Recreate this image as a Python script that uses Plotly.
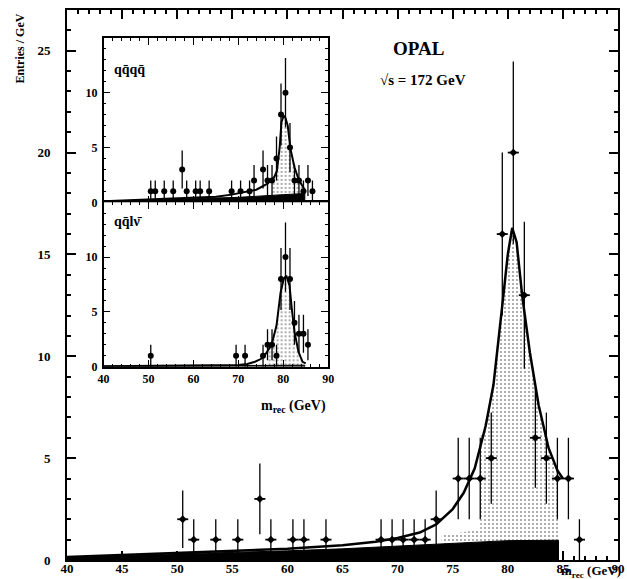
import numpy as np
import plotly.graph_objects as go

# ---------------- data ----------------
# main plot (all channels)
x_main = [50.5, 51.5, 53.5, 55.5, 57.5, 58.5, 60.5, 61.5, 63.5, 68.5, 69.5, 70.5, 71.5, 72.5,
          73.5, 75.5, 76.5, 77.5, 78.5, 79.5, 80.5, 81.5, 82.5, 83.5, 84.5, 85.5, 86.5]
n_main = [2, 1, 1, 1, 3, 1, 1, 1, 1, 1, 1, 1, 1, 1, 2, 4, 4, 4, 5, 16, 20, 13, 6, 5, 4, 4, 1]

fit_x = [40, 45, 50, 55, 60, 65, 68, 70, 72, 73.5, 75, 76, 77, 78, 78.7, 79.5, 80, 80.4,
         80.8, 81.3, 82, 82.8, 83.7, 84.5, 85]
fit_y = [0.15, 0.25, 0.35, 0.45, 0.55, 0.72, 0.9, 1.08, 1.35, 1.75, 2.5, 3.3, 4.5, 6.6, 8.6,
         12.5, 15.0, 16.3, 15.6, 13.0, 10.2, 7.6, 5.5, 4.4, 4.0]

bg_x = [40, 45, 50, 55, 60, 65, 70, 75, 80, 84.6, 84.6]
bg_y = [0.15, 0.22, 0.3, 0.38, 0.45, 0.55, 0.68, 0.82, 0.95, 0.97, 0]

sig_x = [74, 77.5, 77.5, 78, 78.7, 79.5, 80, 80.4, 80.8, 81.3, 82, 82.8, 83.7, 84.6, 84.6]
sig_y = [1.2, 1.5, 6.0, 6.9, 8.3, 12.2, 14.7, 16.0, 15.3, 12.8, 10.0, 7.4, 5.3, 4.2, 0]

# inset: qqqq
x_4q = [50.5, 51.5, 53.5, 55.5, 57.5, 58.5, 60.5, 61.5, 63.5, 68.5, 70.5, 72.5, 73.5, 75.5,
        76.5, 77.5, 78.5, 79.5, 80.5, 81.5, 82.5, 83.5, 84.5, 85.5, 86.5]
n_4q = [1, 1, 1, 1, 3, 1, 1, 1, 1, 1, 1, 1, 2, 3, 2, 2, 4, 8, 10, 5, 2, 2, 1, 2, 1]
fit4_x = [40, 50, 60, 65, 68.5, 72, 74, 76.5, 78, 78.6, 79.2, 79.6, 80.1, 80.5, 81, 81.6,
          82.5, 83.5, 84.7, 85]
fit4_y = [0.1, 0.25, 0.4, 0.5, 0.7, 0.95, 1.15, 1.7, 2.3, 2.9, 5.0, 7.3, 7.9, 7.7, 7.0, 4.9,
          3.2, 2.0, 1.1, 1.0]
bg4_x = [40, 50, 60, 70, 80, 84.8, 84.8]
bg4_y = [0.1, 0.2, 0.3, 0.45, 0.7, 0.8, 0]
sig4_x = [77.5, 78.6, 79.2, 79.6, 80.1, 80.5, 81, 81.6, 82.5, 83.5, 84.6, 84.6]
sig4_y = [2.2, 2.8, 4.8, 7.1, 7.7, 7.5, 6.8, 4.7, 3.0, 1.9, 1.0, 0]

# inset: qqlv
x_lv = [50.5, 69.5, 71.5, 75.5, 76.5, 77.5, 78.5, 79.5, 80.5, 81.5, 82.5, 83.5, 84.5, 85.5]
n_lv = [1, 1, 1, 1, 2, 2, 1, 8, 10, 8, 4, 3, 3, 2]
fitl_x = [40, 60, 70, 72, 73.7, 75, 75.9, 77.4, 78.5, 79.4, 80.1, 80.7, 81.4, 81.9, 82.5,
          83.4, 84.3, 85]
fitl_y = [0.05, 0.08, 0.15, 0.25, 0.45, 0.7, 1.05, 2.0, 3.75, 6.75, 8.0, 8.3, 7.4, 5.3, 3.2,
          1.35, 0.45, 0.3]
bgl_x = [40, 60, 80, 84.8, 84.8]
bgl_y = [0.05, 0.08, 0.12, 0.14, 0]
sigl_x = [76.5, 77.4, 78.5, 79.4, 80.1, 80.7, 81.4, 81.9, 82.5, 83.4, 84.3, 84.3]
sigl_y = [1.2, 1.9, 3.6, 6.5, 7.8, 8.1, 7.2, 5.1, 3.0, 1.2, 0.4, 0]

main_xticks = [40, 45, 50, 55, 60, 65, 70, 75, 80, 85, 90]
main_yticks = [0, 5, 10, 15, 20, 25]
inset_xticks = [40, 50, 60, 70, 80, 90]
inset_yticks = [0, 5, 10]

# ---------------- figure ----------------
W, H = 627, 579
ML, MR, MT, MB = 67, 3, 10, 17
pw, ph = W - ML - MR, H - MT - MB


def px_x(px):
    return (px - ML) / pw


def px_y(py):
    return (H - MB - py) / ph


FONT = "Liberation Serif"
fig = go.Figure()
STIPPLE = dict(shape=".", fgcolor="#333", bgcolor="white", size=4, solidity=0.22)


def add_panel(xa, ya, sx, sy, bx, by, fx, fy, px, pn, marker, hbar, lw):
    fig.add_trace(go.Scatter(x=sx, y=sy, mode="lines", line=dict(width=0), fill="tozeroy",
                             fillcolor="rgba(0,0,0,0)", fillpattern=STIPPLE,
                             xaxis=xa, yaxis=ya, hoverinfo="skip"))
    fig.add_trace(go.Scatter(x=bx, y=by, mode="lines", line=dict(color="black", width=1),
                             fill="tozeroy", fillcolor="black", xaxis=xa, yaxis=ya,
                             hoverinfo="skip"))
    fig.add_trace(go.Scatter(x=fx, y=fy, mode="lines", line=dict(color="black", width=lw),
                             xaxis=xa, yaxis=ya))
    fig.add_trace(go.Scatter(x=px, y=pn, mode="markers", marker=marker,
                             error_y=dict(type="data", array=list(np.sqrt(pn)), color="black",
                                          thickness=1.3, width=0),
                             error_x=dict(type="data", array=[0.5] * len(px), color="black",
                                          thickness=hbar, width=0),
                             xaxis=xa, yaxis=ya))


add_panel("x", "y", sig_x, sig_y, bg_x, bg_y, fit_x, fit_y, x_main, n_main,
          dict(symbol="diamond", size=6, color="black"), 1.8, 2.5)
add_panel("x2", "y2", sig4_x, sig4_y, bg4_x, bg4_y, fit4_x, fit4_y, x_4q, n_4q,
          dict(symbol="circle", size=6, color="black"), 1.3, 2)
add_panel("x3", "y3", sigl_x, sigl_y, bgl_x, bgl_y, fitl_x, fitl_y, x_lv, n_lv,
          dict(symbol="circle", size=6, color="black"), 1.3, 2)

axcommon = dict(showline=True, linecolor="black", mirror="ticks", ticks="inside",
                tickcolor="black", showgrid=False, zeroline=False,
                tickfont=dict(family=FONT, size=13, color="black", weight="bold"))

fig.update_layout(
    width=W, height=H, margin=dict(l=ML, r=MR, t=MT, b=MB),
    paper_bgcolor="white", plot_bgcolor="white", showlegend=False,
    xaxis=dict(**axcommon, range=[40, 90], tickvals=main_xticks, ticklen=9, tickwidth=1.5,
               linewidth=2, minor=dict(dtick=1, ticklen=4, ticks="inside", tickcolor="black"),
               ticklabelstandoff=-5),
    yaxis=dict(**axcommon, range=[0, 27], tickvals=main_yticks, ticklen=9, tickwidth=1.5,
               linewidth=2, minor=dict(dtick=1, ticklen=4, ticks="inside", tickcolor="black"),
               ticklabelstandoff=12),
)
inset_dom_x = [px_x(104), px_x(331)]
inset_ax = dict(showline=True, linecolor="black", mirror="ticks", ticks="inside",
                tickcolor="black", showgrid=False, zeroline=False, linewidth=1.5,
                ticklen=7, tickwidth=1.3,
                tickfont=dict(family=FONT, size=12, color="black", weight="bold"))
fig.update_layout(
    xaxis2=dict(**inset_ax, domain=inset_dom_x, anchor="y2", range=[40, 90],
                tickvals=inset_xticks, showticklabels=False,
                minor=dict(dtick=2, ticklen=3, ticks="inside", tickcolor="black")),
    yaxis2=dict(**inset_ax, domain=[px_y(203), px_y(38)], anchor="x2", range=[0, 15],
                tickvals=inset_yticks, ticklabelstandoff=2,
                minor=dict(dtick=1, ticklen=3, ticks="inside", tickcolor="black")),
    xaxis3=dict(**inset_ax, domain=inset_dom_x, anchor="y3", range=[40, 90],
                tickvals=inset_xticks, ticklabelstandoff=0,
                minor=dict(dtick=2, ticklen=3, ticks="inside", tickcolor="black")),
    yaxis3=dict(**inset_ax, domain=[px_y(368), px_y(203)], anchor="x3", range=[0, 15],
                tickvals=inset_yticks, ticklabelstandoff=2,
                minor=dict(dtick=1, ticklen=3, ticks="inside", tickcolor="black")),
)


def txt(x, y, s, size, **kw):
    fig.add_annotation(x=x, y=y, xref="paper", yref="paper", text=s, showarrow=False,
                       font=dict(family=FONT, size=size, color="black", weight="bold"), **kw)


txt(px_x(422), px_y(36), "OPAL", 19)
txt(px_x(427), px_y(70), "\u221as = 172 GeV", 15)
txt(px_x(112), px_y(60), "qq\u0304qq\u0304", 14, xanchor="left")
txt(px_x(112), px_y(222), "qq\u0304l\u03bd\u0304", 14, xanchor="left")
txt(px_x(10), px_y(12), "Entries / GeV", 12, textangle=-90, yanchor="top")
txt(px_x(629), px_y(584), "m<sub>rec</sub> (GeV)", 13, xanchor="right", yanchor="bottom")
txt(px_x(331), px_y(418), "m<sub>rec</sub> (GeV)", 14, xanchor="right")

fig.write_html("out.html")
